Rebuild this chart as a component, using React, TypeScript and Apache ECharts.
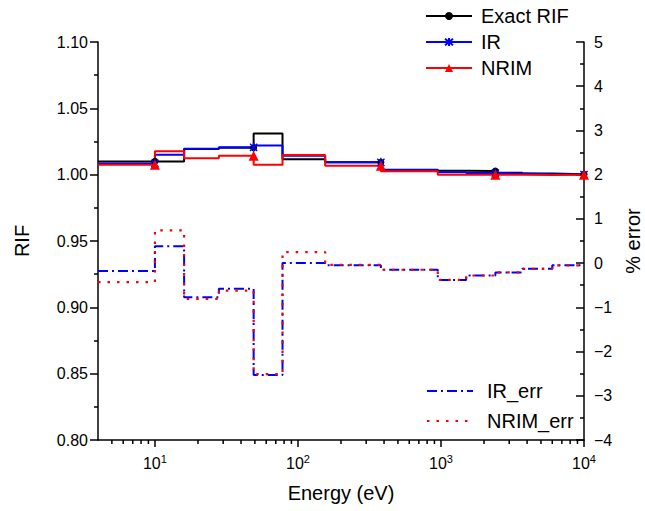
import React, { useEffect, useRef } from 'react';
import * as echarts from 'echarts';

// Group boundary energies (eV); value at index i is held over [energy[i-1], energy[i]]
const energy = [4, 10, 16, 28, 49, 78, 155, 380, 950, 1500, 2400, 3700, 6000, 10000];
const exactRIF = [1.010, 1.010, 1.010, 1.0193, 1.0203, 1.031, 1.0117, 1.0094, 1.0038, 1.0030, 1.0028, 1.0015, 1.0008, 1.0003];
const irRIF = [1.0085, 1.0085, 1.015, 1.0195, 1.0206, 1.0219, 1.0142, 1.0093, 1.0035, 1.0018, 1.0012, 1.0008, 1.0004, 1.0001];
const nrimRIF = [1.0075, 1.0075, 1.0176, 1.0123, 1.0143, 1.0075, 1.0149, 1.0068, 1.0025, 1.0, 1.0, 1.0, 0.9998, 1.0];
const irErr = [-0.18, -0.18, 0.38, -0.77, -0.58, -2.53, 0.0, -0.05, -0.15, -0.38, -0.28, -0.21, -0.13, -0.05];
const nrimErr = [-0.43, -0.43, 0.74, -0.81, -0.62, -2.51, 0.25, -0.04, -0.15, -0.38, -0.28, -0.21, -0.13, -0.05];
const markerIndices = [1, 4, 7, 10, 13];
const xMinorTicks = [5, 6, 7, 8, 9, 20, 30, 40, 50, 60, 70, 80, 90, 200, 300, 400, 500, 600, 700, 800, 900, 2000, 3000, 4000, 5000, 6000, 7000, 8000, 9000];

const FONT = '"Liberation Sans", Arial, Helvetica, sans-serif';
const ASTERISK = 'path://M5,0L5,10M1,1L9,9M9,1L1,9';
const NO_MARK = { color: 'rgba(0,0,0,0)', borderWidth: 0, opacity: 0 };

function withMarkers(values: number[]) {
  return energy.map((e, i) =>
    markerIndices.includes(i) ? { value: [e, values[i]] } : { value: [e, values[i]], symbol: 'none' }
  );
}

export default function App() {
  const ref = useRef<HTMLDivElement>(null);
  useEffect(() => {
    if (!ref.current) return;
    const chart = echarts.init(ref.current, undefined, { renderer: 'svg' });
    const axisLine = { show: true, onZero: false, lineStyle: { color: '#000', width: 1.5 } };
    chart.setOption({
      animation: false,
      backgroundColor: '#fff',
      textStyle: { fontFamily: FONT, color: '#000' },
      grid: { left: 98, right: 61, top: 42, bottom: 71, containLabel: false, outerBoundsMode: 'none' },
      legend: [
        {
          data: ['Exact RIF', 'IR', 'NRIM'],
          orient: 'vertical',
          left: 425,
          top: 6,
          padding: 0,
          itemGap: 6,
          itemWidth: 46,
          itemHeight: 10,
          selectedMode: false,
          textStyle: { fontSize: 20, fontFamily: FONT, color: '#000', padding: [0, 0, 0, 4] },
        },
        {
          data: [
            { name: 'IR_err', itemStyle: NO_MARK },
            { name: 'NRIM_err', itemStyle: NO_MARK },
          ],
          orient: 'vertical',
          left: 426,
          top: 381,
          padding: 0,
          itemGap: 10,
          itemWidth: 46,
          itemHeight: 10,
          selectedMode: false,
          textStyle: { fontSize: 20, fontFamily: FONT, color: '#000', padding: [0, 0, 0, 9] },
        },
      ],
      xAxis: {
        type: 'log',
        logBase: 10,
        min: 4,
        max: 10000,
        name: 'Energy (eV)',
        nameLocation: 'middle',
        nameGap: 43,
        nameTextStyle: { fontSize: 20, fontFamily: FONT, color: '#000' },
        axisLine,
        axisTick: { show: true, inside: false, length: 7, lineStyle: { color: '#000', width: 1.5 } },
        minorTick: { show: false },
        splitLine: { show: false },
        axisLabel: {
          showMinLabel: false,
          margin: 13,
          color: '#000',
          formatter: (v: number) => {
            const l = Math.log10(v);
            const e = Math.round(l);
            if (Math.abs(l - e) > 1e-6) return '';
            return '{b|10}{s|' + e + '}';
          },
          rich: {
            b: { fontSize: 16, fontFamily: FONT, color: '#000' },
            s: { fontSize: 11, fontFamily: FONT, color: '#000', verticalAlign: 'bottom', padding: [0, 0, 9, 0] },
          },
        },
      },
      yAxis: [
        {
          type: 'value',
          min: 0.8,
          max: 1.1,
          interval: 0.05,
          position: 'left',
          name: 'RIF',
          nameLocation: 'middle',
          nameRotate: 90,
          nameGap: 66,
          nameTextStyle: { fontSize: 20, fontFamily: FONT, color: '#000' },
          axisLine,
          axisTick: { show: true, inside: false, length: 8, lineStyle: { color: '#000', width: 1.5 } },
          minorTick: { show: true, splitNumber: 2, length: 4, lineStyle: { color: '#000', width: 1.5 } },
          splitLine: { show: false },
          axisLabel: { fontSize: 16, fontFamily: FONT, color: '#000', margin: 10, formatter: (v: number) => v.toFixed(2) },
        },
        {
          type: 'value',
          min: -4,
          max: 5,
          interval: 1,
          position: 'right',
          name: '% error',
          nameLocation: 'middle',
          nameRotate: 90,
          nameGap: 32,
          nameTextStyle: { fontSize: 20, fontFamily: FONT, color: '#000' },
          axisLine,
          axisTick: { show: true, inside: true, length: 8, lineStyle: { color: '#000', width: 1.5 } },
          minorTick: { show: true, splitNumber: 2, length: 4, lineStyle: { color: '#000', width: 1.5 } },
          splitLine: { show: false },
          axisLabel: {
            fontSize: 16,
            fontFamily: FONT,
            color: '#000',
            margin: 10,
            formatter: (v: number) => String(v).replace('-', '\u2212'),
          },
        },
      ],
      series: [
        {
          name: 'IR_err',
          type: 'line',
          yAxisIndex: 1,
          step: 'start',
          data: energy.map((e, i) => [e, irErr[i]]),
          symbol: 'none',
          showSymbol: false,
          color: '#0000ff',
          lineStyle: { color: '#0000ff', width: 2, type: [10, 4, 2, 4] },
          emphasis: { disabled: true },
        },
        {
          name: 'NRIM_err',
          type: 'line',
          yAxisIndex: 1,
          step: 'start',
          data: energy.map((e, i) => [e, nrimErr[i]]),
          symbol: 'none',
          showSymbol: false,
          color: '#ff0000',
          lineStyle: { color: '#ff0000', width: 2.2, type: [2.5, 7] },
          emphasis: { disabled: true },
        },
        {
          name: 'Exact RIF',
          type: 'line',
          yAxisIndex: 0,
          step: 'start',
          data: withMarkers(exactRIF),
          symbol: 'circle',
          symbolSize: 7,
          showSymbol: true,
          color: '#000',
          itemStyle: { color: '#000', borderWidth: 0 },
          lineStyle: { color: '#000', width: 2 },
          emphasis: { disabled: true },
        },
        {
          name: 'IR',
          type: 'line',
          yAxisIndex: 0,
          step: 'start',
          data: withMarkers(irRIF),
          symbol: ASTERISK,
          symbolSize: 9,
          symbolKeepAspect: true,
          showSymbol: true,
          color: '#0000ff',
          itemStyle: { color: '#0000ff', borderColor: '#0000ff', borderWidth: 1.4 },
          lineStyle: { color: '#0000ff', width: 2 },
          emphasis: { disabled: true },
        },
        {
          name: 'NRIM',
          type: 'line',
          yAxisIndex: 0,
          step: 'start',
          data: withMarkers(nrimRIF),
          symbol: 'triangle',
          symbolSize: 10,
          showSymbol: true,
          color: '#ff0000',
          itemStyle: { color: '#ff0000', borderWidth: 0 },
          lineStyle: { color: '#ff0000', width: 2 },
          emphasis: { disabled: true },
        },
        {
          name: 'minorTicks',
          type: 'custom',
          xAxisIndex: 0,
          yAxisIndex: 0,
          clip: false,
          silent: true,
          data: xMinorTicks.map((v) => [v, 0.8]),
          encode: { x: 0, y: 1 },
          renderItem: (_params: any, api: any) => {
            const p = api.coord([api.value(0), 0.8]);
            return {
              type: 'line',
              shape: { x1: p[0], y1: p[1], x2: p[0], y2: p[1] + 4 },
              style: { stroke: '#000', lineWidth: 1.5 },
            };
          },
          z: 5,
        },
      ],
    });
    return () => chart.dispose();
  }, []);
  return <div ref={ref} style={{ position: 'fixed', left: 0, top: 0, width: 645, height: 511, background: '#fff' }} />;
}
